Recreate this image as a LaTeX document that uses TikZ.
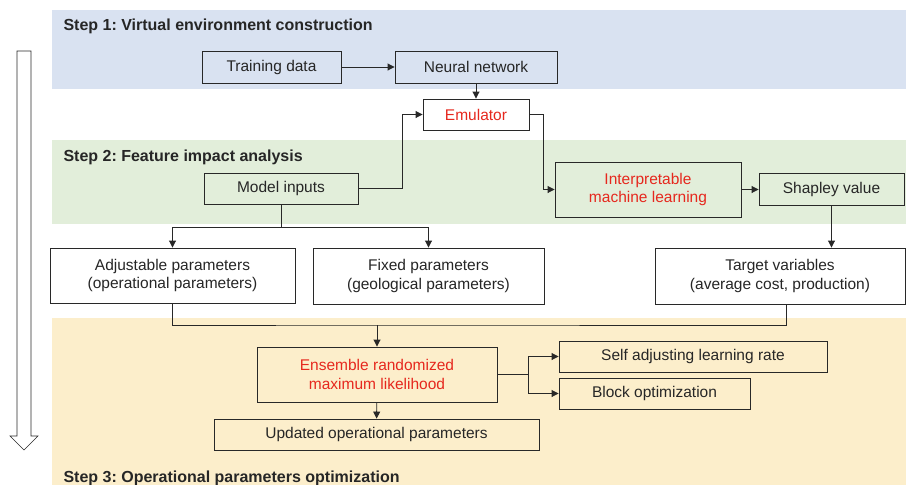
\documentclass[tikz,border=0pt]{standalone}
\usepackage{fontspec}
\setmainfont{Liberation Sans}
\usetikzlibrary{arrows.meta}
\frenchspacing

\definecolor{bandblue}{RGB}{217,226,241}
\definecolor{bandgreen}{RGB}{226,238,218}
\definecolor{bandyellow}{RGB}{252,238,203}
\definecolor{linegray}{RGB}{40,40,40}
\definecolor{textred}{RGB}{230,40,30}

\tikzset{
	flowpicture/.style = {
		x = 1pt,
		y = -1pt,
		font = \fontsize{15.5}{18.5}\selectfont,
		arrow/.style = {
			draw = linegray,
			line width = 0.9pt,
			-{Triangle[length=7pt, width=7pt]},
		},
		link/.style = {
			draw = linegray,
			line width = 0.9pt,
		}
	},
	flowbox/.style = {
		draw = linegray,
		line width = 0.9pt,
		inner sep = 0pt,
		align = center,
		text = black!85
	},
	key/.style = {
		text = textred
	},
	steplabel/.style = {
		anchor = base west,
		font = \fontsize{16}{19}\selectfont\bfseries,
		text = black!85
	}
}

\begin{document}
\begin{tikzpicture}[flowpicture]
	\useasboundingbox (0,0) rectangle (906,485);

	% step bands
	\fill[bandblue] (52,10) rectangle (906,89);
	\fill[bandgreen] (52,140) rectangle (906,224);
	\fill[bandyellow] (52,318) rectangle (906,485);

	\node[steplabel] (step1) at (60,30) {Step 1: Virtual environment construction};
	\node[steplabel] (step2) at (60,161) {Step 2: Feature impact analysis};
	\node[steplabel] (step3) at (60,482) {Step 3: Operational parameters optimization};

	% progress arrow
	\draw[linegray, line width = 0.6pt, fill = white]
		(17,51) -- (31,51) -- (31,436) -- (38,436) -- (24,450) -- (10,436) -- (17,436) -- cycle;

	\node[flowbox, fill = bandblue, minimum width = 139pt, minimum height = 32pt] (train) at (271.5,67) {Training data};
	\node[flowbox, fill = bandblue, minimum width = 162pt, minimum height = 32pt] (nn) at (476,67) {Neural network};
	\node[flowbox, key, fill = white, minimum width = 106pt, minimum height = 31pt] (emu) at (476,114.5) {Emulator};

	\node[flowbox, fill = bandgreen, minimum width = 154pt, minimum height = 31pt] (inputs) at (281,188.5) {Model inputs};
	\node[flowbox, key, fill = bandgreen, minimum width = 186pt, minimum height = 55pt] (iml) at (648,189.5) {Interpretable\\machine learning};
	\node[flowbox, fill = bandgreen, minimum width = 145pt, minimum height = 32pt] (shap) at (831.5,189) {Shapley value};

	\node[flowbox, fill = white, minimum width = 245pt, minimum height = 55pt] (adj) at (172.5,275.5) {Adjustable parameters\\(operational parameters)};
	\node[flowbox, fill = white, minimum width = 231pt, minimum height = 56pt] (fixed) at (428.5,276) {Fixed parameters\\(geological parameters)};
	\node[flowbox, fill = white, minimum width = 250pt, minimum height = 56pt] (target) at (780,276) {Target variables\\(average cost, production)};

	\node[flowbox, key, fill = bandyellow, minimum width = 240pt, minimum height = 55pt] (erml) at (377,374.5) {Ensemble randomized\\maximum likelihood};
	\node[flowbox, fill = bandyellow, minimum width = 268pt, minimum height = 31pt] (self) at (693,356.5) {Self adjusting learning rate};
	\node[flowbox, fill = bandyellow, minimum width = 191pt, minimum height = 31pt] (block) at (654.5,393.5) {Block optimization};
	\node[flowbox, fill = bandyellow, minimum width = 325pt, minimum height = 31pt] (upd) at (376.5,434.5) {Updated operational parameters};

	\coordinate (fork1) at (281,227);
	\coordinate (join) at (377,325);
	\coordinate (fork2) at (528,374.5);

	\begin{scope}[every path/.style = arrow]
		\path (train) to (nn);
		\path (nn) to (emu);
		\path (inputs.east) -- ++(44,0) |- (emu.west);
		\path (emu.east) -- ++(14,0) |- (iml.west);
		\path (iml.east) to (iml.east -| shap.west);
		\path (shap.south) to (shap.south |- target.north);

		\path (fork1) -| (adj.north);
		\path (fork1) -| (fixed.north);

		\path (join) to (erml.north);
		\path (fork2) |- (self.west);
		\path (fork2) |- (block.west);
		\path (erml) to (upd);
	\end{scope}

	\begin{scope}[every path/.style = link]
		\path (inputs.south) to (fork1);
		\path (adj.south) |- (join) -| ([xshift = 6pt]target.south);
		\path (erml.east) to (fork2);
	\end{scope}
\end{tikzpicture}
\end{document}
